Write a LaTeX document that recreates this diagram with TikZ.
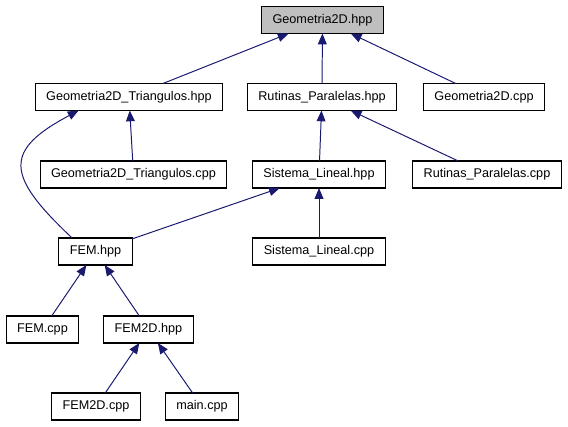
\documentclass[tikz,border=0pt]{standalone}
\usepackage{fontspec}
\setmainfont{Liberation Sans}
\usepackage{xcolor}
\usepackage{tikz}
\usetikzlibrary{calc,positioning,arrows.meta}
\definecolor{edgeblue}{HTML}{191970}
\definecolor{focusgray}{HTML}{BFBFBF}

\begin{document}
\begin{tikzpicture}[
            x=0.025cm, y=0.025cm,
            file/.style={draw=black, line width=0.8pt, fill=white, minimum height=0.675cm,
                    inner xsep=7.8pt, inner ysep=0pt, font=\fontsize{9}{11}\selectfont, outer sep=0pt},
            focus/.style={file, fill=focusgray},
            arrow/.style={-{Triangle[length=0.27cm, width=0.22cm]}, edgeblue, line width=0.7pt}
        ]
        \useasboundingbox (0,0) rectangle (568,-427);

        % --- RACINE ---
        \node[focus] (G2Dh) at (322.5,-20) {Geometria2D.hpp};

        % --- NIVEAU 1 ---
        \node[file] (Trih) at (129,-97) {Geometria2D\_Triangulos.hpp};
        \node[file] (Ruth) at (322,-97) {Rutinas\_Paralelas.hpp};
        \node[file] (G2Dc) at (484,-97) {Geometria2D.cpp};

        % --- NIVEAU 2 ---
        \node[file] (Tric) at (133.5,-174.5) {Geometria2D\_Triangulos.cpp};
        \node[file] (Sish) at (319,-174.5) {Sistema\_Lineal.hpp};
        \node[file] (Rutc) at (487,-174.5) {Rutinas\_Paralelas.cpp};

        % --- NIVEAU 3 ---
        \node[file] (FEMh) at (95.5,-251.5) {FEM.hpp};
        \node[file] (Sisc) at (319,-251.5) {Sistema\_Lineal.cpp};

        % --- NIVEAU 4 & 5 ---
        \node[file] (FEMc) at (42.5,-329.5) {FEM.cpp};
        \node[file] (FEM2Dh) at (148.5,-329.5) {FEM2D.hpp};
        \node[file] (FEM2Dc) at (96,-406.5) {FEM2D.cpp};
        \node[file] (mainc) at (202,-406.5) {main.cpp};

        % --- INCLUSIONS ---
        \foreach \a/\b in {Trih/G2Dh, Ruth/G2Dh, G2Dc/G2Dh, Tric/Trih, Sish/Ruth, Rutc/Ruth,
                FEMh/Sish, Sisc/Sish, FEMc/FEMh, FEM2Dh/FEMh, FEM2Dc/FEM2Dh, mainc/FEM2Dh} {
                \draw[arrow] (\a) -- (\b);
            }

        % FEM.hpp -> Geometria2D_Triangulos.hpp (courbe)
        \draw[arrow] (FEMh.150) .. controls +(-67,63) and +(-75,-40) .. (Trih.195);

    \end{tikzpicture}
\end{document}
